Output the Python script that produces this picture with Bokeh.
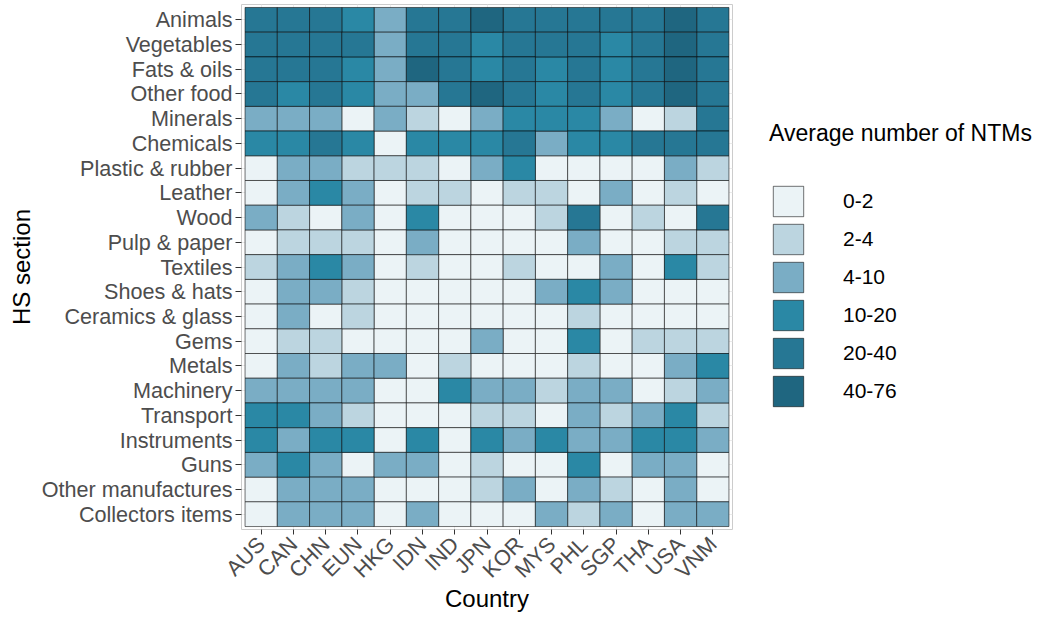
import math
from bokeh.plotting import figure
from bokeh.layouts import row
from bokeh.models import (FactorRange, ColumnDataSource, Legend, LegendItem,
                          Range1d)
from bokeh.embed import file_html
from bokeh.resources import INLINE

countries = ["AUS", "CAN", "CHN", "EUN", "HKG", "IDN", "IND", "JPN",
             "KOR", "MYS", "PHL", "SGP", "THA", "USA", "VNM"]
sections = ["Animals", "Vegetables", "Fats & oils", "Other food", "Minerals",
            "Chemicals", "Plastic & rubber", "Leather", "Wood", "Pulp & paper",
            "Textiles", "Shoes & hats", "Ceramics & glass", "Gems", "Metals",
            "Machinery", "Transport", "Instruments", "Guns",
            "Other manufactures", "Collectors items"]
bin_labels = ["0-2", "2-4", "4-10", "10-20", "20-40", "40-76"]
bin_colors = ["#EBF3F6", "#BCD5E0", "#7AADC5", "#2A88A5", "#267794", "#1F6680"]

# bin index (0..5) per country, one list per HS section
animals      = [4, 4, 4, 3, 2, 4, 4, 5, 4, 4, 4, 4, 4, 5, 4]
vegetables   = [4, 4, 4, 4, 2, 4, 4, 3, 4, 4, 4, 3, 4, 5, 4]
fats_oils    = [4, 4, 4, 3, 2, 5, 4, 3, 4, 3, 4, 3, 4, 5, 4]
other_food   = [4, 3, 4, 3, 2, 2, 4, 5, 4, 3, 4, 3, 4, 5, 4]
minerals     = [2, 2, 2, 0, 2, 1, 0, 2, 3, 3, 3, 2, 0, 1, 4]
chemicals    = [3, 3, 4, 3, 0, 3, 3, 3, 4, 2, 3, 3, 4, 4, 4]
plastic      = [0, 2, 2, 1, 1, 1, 0, 2, 3, 0, 0, 0, 0, 2, 1]
leather      = [0, 2, 3, 2, 0, 1, 1, 0, 1, 1, 0, 2, 0, 1, 0]
wood         = [2, 1, 0, 2, 0, 3, 0, 0, 0, 1, 4, 0, 1, 0, 4]
pulp_paper   = [0, 1, 1, 1, 0, 2, 0, 0, 0, 0, 2, 0, 0, 1, 1]
textiles     = [1, 2, 3, 2, 0, 1, 0, 0, 1, 0, 0, 2, 0, 3, 1]
shoes_hats   = [0, 2, 2, 1, 0, 0, 0, 0, 0, 2, 3, 2, 0, 0, 0]
ceramics     = [0, 2, 0, 1, 0, 0, 0, 0, 0, 0, 1, 0, 0, 0, 0]
gems         = [0, 1, 1, 0, 0, 0, 0, 2, 0, 0, 3, 0, 1, 1, 1]
metals       = [0, 2, 1, 2, 2, 0, 1, 0, 0, 0, 1, 0, 0, 2, 3]
machinery    = [2, 2, 2, 2, 0, 0, 3, 2, 2, 1, 2, 2, 0, 1, 2]
transport    = [3, 3, 2, 1, 0, 0, 0, 1, 1, 0, 2, 1, 2, 3, 1]
instruments  = [3, 2, 3, 3, 0, 3, 0, 3, 2, 3, 2, 2, 3, 3, 2]
guns         = [2, 3, 2, 0, 2, 2, 0, 1, 0, 0, 3, 0, 2, 2, 0]
other_manuf  = [0, 2, 2, 2, 0, 0, 0, 1, 2, 0, 2, 1, 0, 2, 0]
collectors   = [0, 2, 2, 2, 0, 2, 0, 0, 0, 2, 1, 2, 0, 2, 2]

rows = [animals, vegetables, fats_oils, other_food, minerals, chemicals,
        plastic, leather, wood, pulp_paper, textiles, shoes_hats, ceramics,
        gems, metals, machinery, transport, instruments, guns, other_manuf,
        collectors]

FONT = "Liberation Sans"
H = 617

# ---- main heatmap ----
p = figure(
    width=736, height=H,
    x_range=FactorRange(factors=countries, range_padding=0.11,
                        range_padding_units="absolute"),
    y_range=FactorRange(factors=list(reversed(sections)), range_padding=0.12,
                        range_padding_units="absolute"),
    output_backend="svg", toolbar_location=None,
    min_border_left=241, min_border_right=4,
    min_border_top=4, min_border_bottom=88,
)

for b, col in enumerate(bin_colors):
    xs, ys = [], []
    for sec, vals in zip(sections, rows):
        for c, v in zip(countries, vals):
            if v == b:
                xs.append(c)
                ys.append(sec)
    src = ColumnDataSource(dict(x=xs, y=ys))
    p.rect(x="x", y="y", width=1, height=1, source=src,
           fill_color=col, line_color="black", line_alpha=0.55, line_width=1)

p.outline_line_color = "#CCCCCC"
p.xgrid.grid_line_color = "#EBEBEB"
p.ygrid.grid_line_color = "#EBEBEB"

for ax in (p.xaxis, p.yaxis):
    ax.axis_line_color = None
    ax.major_tick_line_color = "#333333"
    ax.major_tick_in = 0
    ax.major_label_text_font = FONT
    ax.major_label_text_font_size = "21.6px"
    ax.major_label_text_color = "#4D4D4D"
    ax.axis_label_text_font = FONT
    ax.axis_label_text_font_size = "24px"
    ax.axis_label_text_color = "black"
    ax.axis_label_text_font_style = "normal"
    ax.axis_label_standoff = 4

p.xaxis.axis_label = "Country"
p.xaxis.major_tick_out = 5
p.xaxis.axis_label_standoff = -10
p.xaxis.major_label_standoff = 6
p.xaxis.major_label_orientation = math.pi / 4
p.yaxis.axis_label = "HS section"
p.yaxis.major_tick_out = 6
p.yaxis.major_label_standoff = 3

# ---- legend panel (proxy glyphs kept outside the visible range) ----
q = figure(width=300, height=H, output_backend="svg", toolbar_location=None,
           x_range=Range1d(0, 1), y_range=Range1d(0, 1),
           min_border_left=0, min_border_right=0,
           min_border_top=0, min_border_bottom=0)
q.axis.visible = False
q.grid.visible = False
q.outline_line_color = None

items = []
for lab, col in zip(bin_labels, bin_colors):
    r = q.rect(x=[-5], y=[-5], width=0.1, height=0.1, fill_color=col,
               line_color="black", line_alpha=0.55, line_width=1)
    items.append(LegendItem(label=lab, renderers=[r]))

legend = Legend(
    items=items, location=(33, 119),
    title="Average number of NTMs",
    title_text_font=FONT, title_text_font_size="23px",
    title_text_color="black", title_text_font_style="normal",
    title_standoff=35,
    label_text_font=FONT, label_text_font_size="21px",
    label_text_color="black", label_standoff=36,
    glyph_width=38, glyph_height=38, spacing=0,
    padding=0, margin=0,
    background_fill_alpha=0, border_line_alpha=0,
)
q.add_layout(legend, "center")

layout = row(p, q)
open("out.html", "w").write(file_html(layout, INLINE))
